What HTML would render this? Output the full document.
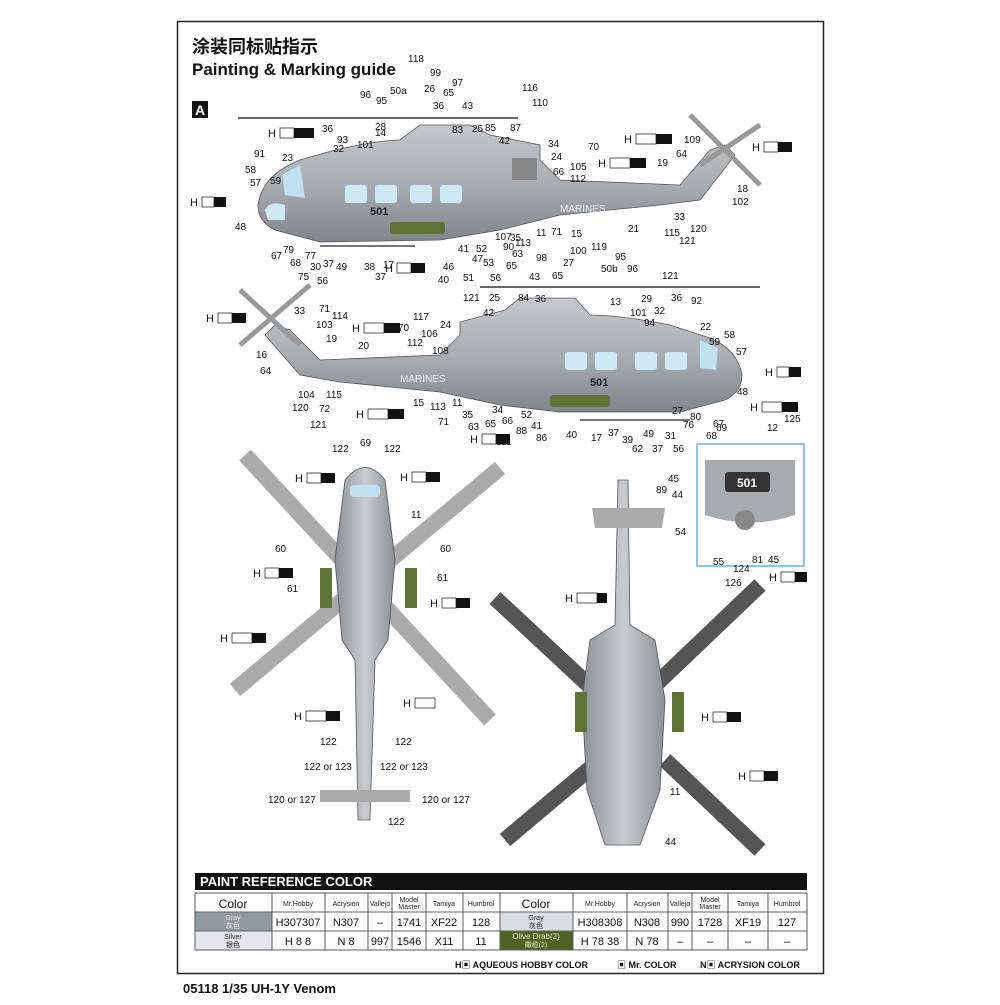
<!DOCTYPE html>
<html><head><meta charset="utf-8"><style>
html,body{margin:0;padding:0;background:#fff;}
svg text{font-family:"Liberation Sans","Noto Sans CJK SC",sans-serif;}
</style></head><body>
<svg width="1000" height="1000" viewBox="0 0 1000 1000" xmlns="http://www.w3.org/2000/svg">
<defs>
<linearGradient id="fus" x1="0" y1="0" x2="0" y2="1"><stop offset="0" stop-color="#c4c8cc"/><stop offset="0.5" stop-color="#a9aeb3"/><stop offset="1" stop-color="#7f858b"/></linearGradient>
<linearGradient id="top" x1="0" y1="0" x2="1" y2="0"><stop offset="0" stop-color="#8a9096"/><stop offset="0.5" stop-color="#c8ccd0"/><stop offset="1" stop-color="#8a9096"/></linearGradient>
</defs>
<rect x="0" y="0" width="1000" height="1000" fill="#fff"/>
<rect x="177.500" y="21.500" width="646" height="952" fill="none" stroke="#222" stroke-width="1.500"/>
<text x="192" y="53" font-size="18" font-weight="bold" fill="#111">涂装同标贴指示</text>
<text x="192" y="75" font-size="17" font-weight="bold" fill="#111">Painting &amp; Marking guide</text>
<rect x="192" y="101" width="16" height="17" fill="#111"/><text x="195" y="115" font-size="14" font-weight="bold" fill="#fff">A</text>

<!-- Helicopter 1 side -->
<g>
<line x1="238" y1="118" x2="518" y2="118" stroke="#666" stroke-width="2"/>
<path d="M258,205 Q262,175 300,160 L335,150 Q380,140 400,140 L420,125 L470,125 L490,135 L540,145 L540,160 L560,180 L680,185 L710,150 L725,145 L735,155 L700,200 L660,205 L560,215 L500,230 L440,240 L320,242 L275,230 Q258,222 258,205Z" fill="url(#fus)" stroke="#555" stroke-width="0.8"/>
<path d="M282,175 L300,165 L305,198 L285,195Z" fill="#bfe1f2"/>
<rect x="345" y="185" width="22" height="18" rx="3" fill="#cfe8f6"/><rect x="375" y="185" width="22" height="18" rx="3" fill="#cfe8f6"/><rect x="410" y="185" width="22" height="18" rx="3" fill="#cfe8f6"/><rect x="440" y="185" width="22" height="18" rx="3" fill="#cfe8f6"/>
<path d="M265,210 Q270,200 285,205 L285,220 L268,220Z" fill="#cfe8f6"/>
<rect x="390" y="222" width="55" height="12" rx="3" fill="#5f7336"/>
<line x1="320" y1="246" x2="415" y2="246" stroke="#777" stroke-width="2"/>
<line x1="700" y1="165" x2="760" y2="125" stroke="#999" stroke-width="5"/><line x1="690" y1="115" x2="760" y2="185" stroke="#999" stroke-width="5"/>
<rect x="512" y="158" width="25" height="22" fill="#888"/>
<text x="560" y="212" font-size="10" fill="#eee">MARINES</text>
<text x="370" y="215" font-size="11" font-weight="bold" fill="#222">501</text>
</g>
<!-- Helicopter 2 side (mirrored) -->
<g>
<line x1="480" y1="287" x2="760" y2="287" stroke="#666" stroke-width="2"/>
<path d="M742,375 Q738,350 710,338 L670,325 Q620,315 590,315 L575,298 L520,298 L505,310 L460,322 L460,335 L440,355 L320,360 L290,330 L275,325 L265,335 L300,375 L340,382 L440,392 L500,405 L560,412 L680,412 L725,400 Q742,392 742,375Z" fill="url(#fus)" stroke="#555" stroke-width="0.8"/>
<rect x="565" y="352" width="22" height="18" rx="3" fill="#cfe8f6"/><rect x="595" y="352" width="22" height="18" rx="3" fill="#cfe8f6"/><rect x="635" y="352" width="22" height="18" rx="3" fill="#cfe8f6"/><rect x="665" y="352" width="22" height="18" rx="3" fill="#cfe8f6"/>
<path d="M700,340 L718,348 L716,370 L700,368Z" fill="#bfe1f2"/>
<rect x="550" y="395" width="60" height="12" rx="3" fill="#5f7336"/>
<line x1="580" y1="420" x2="690" y2="420" stroke="#777" stroke-width="2"/>
<line x1="240" y1="290" x2="300" y2="345" stroke="#999" stroke-width="5"/><line x1="240" y1="345" x2="310" y2="285" stroke="#999" stroke-width="5"/>
<text x="400" y="382" font-size="10" fill="#eee">MARINES</text>
<text x="590" y="386" font-size="11" font-weight="bold" fill="#222">501</text>
</g>
<!-- Top view -->
<g>
<line x1="245" y1="455" x2="490" y2="720" stroke="#aaa" stroke-width="16"/>
<line x1="500" y1="468" x2="235" y2="690" stroke="#aaa" stroke-width="16"/>
<path d="M345,480 Q365,455 385,480 L395,560 L388,640 L375,660 L370,820 L358,820 L355,660 L342,640 L335,560Z" fill="url(#top)" stroke="#555" stroke-width="0.8"/>
<rect x="320" y="790" width="90" height="12" fill="#aaa"/>
<rect x="320" y="568" width="12" height="40" fill="#5f7336"/><rect x="405" y="568" width="12" height="40" fill="#5f7336"/>
<rect x="350" y="485" width="30" height="12" rx="4" fill="#bfe1f2"/>
</g>
<!-- Bottom view -->
<g>
<line x1="495" y1="598" x2="610" y2="705" stroke="#555" stroke-width="16"/>
<line x1="760" y1="585" x2="650" y2="690" stroke="#555" stroke-width="16"/>
<line x1="505" y1="840" x2="600" y2="760" stroke="#555" stroke-width="16"/>
<line x1="760" y1="850" x2="665" y2="760" stroke="#555" stroke-width="16"/>
<path d="M618,480 L628,480 L630,625 L655,640 L665,700 L660,790 L640,845 L605,845 L587,790 L582,700 L590,640 L615,625Z" fill="url(#top)" stroke="#555" stroke-width="0.8"/>
<path d="M592,508 L665,508 L662,528 L595,528Z" fill="#aaa"/>
<rect x="575" y="692" width="12" height="40" fill="#5f7336"/><rect x="672" y="692" width="12" height="40" fill="#5f7336"/>
</g>
<!-- Inset -->
<rect x="697" y="444" width="107" height="122" fill="#fff" stroke="#6cb4dc" stroke-width="1.500"/>
<path d="M705,460 L795,460 L795,515 Q750,530 705,515Z" fill="#a6abb0"/>
<rect x="725" y="472" width="45" height="20" rx="3" fill="#333"/><text x="737" y="487" font-size="12" font-weight="bold" fill="#fff">501</text>
<circle cx="745" cy="520" r="10" fill="#888"/>

<g font-size="10" fill="#111">
<text x="408" y="62">118</text><text x="430" y="76">99</text><text x="452" y="86">97</text><text x="360" y="98">96</text><text x="376" y="104">95</text><text x="390" y="94">50a</text><text x="424" y="92">26</text><text x="443" y="96">65</text><text x="433" y="109">36</text><text x="462" y="109">43</text><text x="522" y="91">116</text><text x="532" y="106">110</text>
<text x="375" y="130">28</text><text x="322" y="132">36</text><text x="337" y="143">93</text><text x="333" y="152">32</text><text x="357" y="148">101</text><text x="375" y="136">14</text><text x="452" y="133">83</text><text x="472" y="132">25</text><text x="485" y="131">85</text><text x="510" y="131">87</text><text x="499" y="144">42</text>
<text x="548" y="147">34</text><text x="551" y="160">24</text><text x="570" y="170">105</text><text x="553" y="175">66</text><text x="570" y="182">112</text><text x="588" y="150">70</text><text x="684" y="143">109</text><text x="676" y="157">64</text><text x="657" y="166">19</text><text x="737" y="192">18</text><text x="732" y="205">102</text>
<text x="254" y="157">91</text><text x="282" y="161">23</text><text x="245" y="173">58</text><text x="250" y="186">57</text><text x="270" y="184">59</text><text x="235" y="230">48</text>
<text x="674" y="220">33</text><text x="628" y="232">21</text><text x="664" y="236">115</text><text x="690" y="232">120</text><text x="679" y="244">121</text>
<text x="271" y="259">67</text><text x="283" y="253">79</text><text x="290" y="266">68</text><text x="305" y="259">77</text><text x="310" y="270">30</text><text x="323" y="267">37</text><text x="336" y="270">49</text><text x="298" y="280">75</text><text x="317" y="284">56</text>
<text x="364" y="270">38</text><text x="383" y="268">17</text><text x="375" y="280">37</text><text x="458" y="252">41</text><text x="476" y="252">52</text><text x="472" y="262">47</text><text x="483" y="266">53</text><text x="443" y="270">46</text><text x="463" y="281">51</text><text x="438" y="283">40</text>
<text x="495" y="240">107</text><text x="510" y="241">35</text><text x="536" y="236">11</text><text x="551" y="235">71</text><text x="571" y="237">15</text><text x="503" y="250">90</text><text x="515" y="246">113</text><text x="512" y="257">63</text><text x="506" y="269">65</text><text x="490" y="281">56</text><text x="529" y="280">43</text>
<text x="536" y="261">98</text><text x="570" y="254">100</text><text x="591" y="250">119</text><text x="563" y="266">27</text><text x="601" y="272">50b</text><text x="615" y="260">95</text><text x="627" y="272">96</text><text x="552" y="279">65</text><text x="662" y="279">121</text>
<text x="463" y="301">121</text><text x="489" y="301">25</text><text x="518" y="301">84</text><text x="535" y="302">36</text><text x="413" y="320">117</text><text x="483" y="316">42</text><text x="440" y="328">24</text><text x="610" y="305">13</text><text x="641" y="302">29</text><text x="654" y="314">32</text><text x="630" y="316">101</text><text x="644" y="326">94</text><text x="671" y="301">36</text><text x="691" y="304">92</text><text x="700" y="330">22</text><text x="724" y="338">58</text><text x="709" y="345">59</text><text x="736" y="355">57</text><text x="737" y="395">48</text>
<text x="398" y="331">70</text><text x="421" y="337">106</text><text x="407" y="346">112</text><text x="432" y="354">108</text><text x="358" y="349">20</text><text x="294" y="314">33</text><text x="319" y="312">71</text><text x="332" y="319">114</text><text x="316" y="328">103</text><text x="326" y="342">19</text><text x="256" y="358">16</text><text x="260" y="374">64</text>
<text x="298" y="398">104</text><text x="326" y="398">115</text><text x="292" y="411">120</text><text x="319" y="412">72</text><text x="310" y="428">121</text><text x="413" y="406">15</text><text x="430" y="410">113</text><text x="438" y="425">71</text><text x="452" y="406">11</text><text x="462" y="418">35</text><text x="468" y="430">63</text><text x="485" y="427">65</text><text x="492" y="413">34</text><text x="502" y="424">66</text><text x="516" y="434">88</text><text x="521" y="418">52</text><text x="531" y="429">41</text><text x="536" y="441">86</text><text x="496" y="445">111</text>
<text x="566" y="438">40</text><text x="591" y="441">17</text><text x="608" y="436">37</text><text x="622" y="443">39</text><text x="632" y="452">62</text><text x="643" y="437">49</text><text x="652" y="452">37</text><text x="665" y="439">31</text><text x="673" y="452">56</text><text x="683" y="428">76</text><text x="672" y="414">27</text><text x="690" y="420">80</text><text x="713" y="427">67</text><text x="706" y="439">68</text><text x="784" y="422">125</text><text x="716" y="431">69</text><text x="767" y="431">12</text>
<text x="332" y="452">122</text><text x="360" y="446">69</text><text x="384" y="452">122</text><text x="411" y="518">11</text><text x="275" y="552">60</text><text x="440" y="552">60</text><text x="437" y="581">61</text><text x="287" y="592">61</text><text x="320" y="745">122</text><text x="395" y="745">122</text><text x="304" y="770">122 or 123</text><text x="380" y="770">122 or 123</text><text x="268" y="803">120 or 127</text><text x="422" y="803">120 or 127</text><text x="388" y="825">122</text>
<text x="668" y="482">45</text><text x="656" y="493">89</text><text x="672" y="498">44</text><text x="675" y="535">54</text><text x="713" y="565">55</text><text x="733" y="572">124</text><text x="752" y="563">81</text><text x="768" y="563">45</text><text x="725" y="586">126</text><text x="670" y="795">11</text><text x="665" y="845">44</text>
</g>
<!-- H badges -->
<g font-size="11" fill="#111">
<text x="268" y="137">H</text><rect x="280" y="128" width="14" height="10" fill="#fff" stroke="#111" stroke-width="0.7"/><rect x="294" y="128" width="20" height="10" fill="#111"/>
<text x="190" y="206">H</text><rect x="202" y="197" width="12" height="10" fill="#fff" stroke="#111" stroke-width="0.7"/><rect x="214" y="197" width="12" height="10" fill="#111"/>
<text x="624" y="143">H</text><rect x="636" y="134" width="20" height="10" fill="#fff" stroke="#111" stroke-width="0.7"/><rect x="656" y="134" width="16" height="10" fill="#111"/>
<text x="598" y="167">H</text><rect x="610" y="158" width="20" height="10" fill="#fff" stroke="#111" stroke-width="0.7"/><rect x="630" y="158" width="16" height="10" fill="#111"/>
<text x="752" y="151">H</text><rect x="764" y="142" width="14" height="10" fill="#fff" stroke="#111" stroke-width="0.7"/><rect x="778" y="142" width="14" height="10" fill="#111"/>
<text x="385" y="272">H</text><rect x="397" y="263" width="14" height="10" fill="#fff" stroke="#111" stroke-width="0.7"/><rect x="411" y="263" width="14" height="10" fill="#111"/>
<text x="206" y="322">H</text><rect x="218" y="313" width="14" height="10" fill="#fff" stroke="#111" stroke-width="0.7"/><rect x="232" y="313" width="14" height="10" fill="#111"/>
<text x="352" y="332">H</text><rect x="364" y="323" width="20" height="10" fill="#fff" stroke="#111" stroke-width="0.7"/><rect x="384" y="323" width="16" height="10" fill="#111"/>
<text x="356" y="418">H</text><rect x="368" y="409" width="20" height="10" fill="#fff" stroke="#111" stroke-width="0.7"/><rect x="388" y="409" width="16" height="10" fill="#111"/>
<text x="765" y="376">H</text><rect x="777" y="367" width="12" height="10" fill="#fff" stroke="#111" stroke-width="0.7"/><rect x="789" y="367" width="12" height="10" fill="#111"/>
<text x="470" y="443">H</text><rect x="482" y="434" width="14" height="10" fill="#fff" stroke="#111" stroke-width="0.7"/><rect x="496" y="434" width="14" height="10" fill="#111"/>
<text x="750" y="411">H</text><rect x="762" y="402" width="20" height="10" fill="#fff" stroke="#111" stroke-width="0.7"/><rect x="782" y="402" width="16" height="10" fill="#111"/>
<text x="295" y="482">H</text><rect x="307" y="473" width="14" height="10" fill="#fff" stroke="#111" stroke-width="0.7"/><rect x="321" y="473" width="14" height="10" fill="#111"/>
<text x="400" y="481">H</text><rect x="412" y="472" width="14" height="10" fill="#fff" stroke="#111" stroke-width="0.7"/><rect x="426" y="472" width="14" height="10" fill="#111"/>
<text x="253" y="577">H</text><rect x="265" y="568" width="14" height="10" fill="#fff" stroke="#111" stroke-width="0.7"/><rect x="279" y="568" width="14" height="10" fill="#111"/>
<text x="430" y="607">H</text><rect x="442" y="598" width="14" height="10" fill="#fff" stroke="#111" stroke-width="0.7"/><rect x="456" y="598" width="14" height="10" fill="#111"/>
<text x="220" y="642">H</text><rect x="232" y="633" width="20" height="10" fill="#fff" stroke="#111" stroke-width="0.7"/><rect x="252" y="633" width="14" height="10" fill="#111"/>
<text x="403" y="707">H</text><rect x="415" y="698" width="20" height="10" fill="#fff" stroke="#111" stroke-width="0.7"/><rect x="435" y="698" width="0" height="10" fill="#111"/>
<text x="294" y="720">H</text><rect x="306" y="711" width="20" height="10" fill="#fff" stroke="#111" stroke-width="0.7"/><rect x="326" y="711" width="14" height="10" fill="#111"/>
<text x="565" y="602">H</text><rect x="577" y="593" width="20" height="10" fill="#fff" stroke="#111" stroke-width="0.7"/><rect x="597" y="593" width="10" height="10" fill="#111"/>
<text x="701" y="721">H</text><rect x="713" y="712" width="14" height="10" fill="#fff" stroke="#111" stroke-width="0.7"/><rect x="727" y="712" width="14" height="10" fill="#111"/>
<text x="738" y="780">H</text><rect x="750" y="771" width="14" height="10" fill="#fff" stroke="#111" stroke-width="0.7"/><rect x="764" y="771" width="14" height="10" fill="#111"/>
<text x="769" y="581">H</text><rect x="781" y="572" width="14" height="10" fill="#fff" stroke="#111" stroke-width="0.7"/><rect x="795" y="572" width="12" height="10" fill="#111"/>
</g>

<!-- Table -->
<rect x="195" y="873" width="612" height="17" fill="#111"/>
<text x="200" y="886" font-size="13" font-weight="bold" fill="#fff">PAINT  REFERENCE COLOR</text>
<g stroke="#333" stroke-width="0.8" fill="none">
<rect x="195" y="893" width="612" height="57"/>
<line x1="195" y1="912" x2="807" y2="912"/><line x1="195" y1="931" x2="807" y2="931"/>
<line x1="272" y1="893" x2="272" y2="950"/><line x1="325" y1="893" x2="325" y2="950"/><line x1="368" y1="893" x2="368" y2="950"/><line x1="392" y1="893" x2="392" y2="950"/><line x1="426" y1="893" x2="426" y2="950"/><line x1="463" y1="893" x2="463" y2="950"/><line x1="500" y1="893" x2="500" y2="950"/><line x1="573" y1="893" x2="573" y2="950"/><line x1="627" y1="893" x2="627" y2="950"/><line x1="668" y1="893" x2="668" y2="950"/><line x1="692" y1="893" x2="692" y2="950"/><line x1="728" y1="893" x2="728" y2="950"/><line x1="768" y1="893" x2="768" y2="950"/>
</g>
<rect x="195.500" y="912.500" width="76" height="18" fill="#8f9aa2"/>
<rect x="195.500" y="931.500" width="76" height="18" fill="#e3e5f0"/>
<rect x="500.500" y="912.500" width="72" height="18" fill="#d7dee2"/>
<rect x="500.500" y="931.500" width="72" height="18" fill="#4e6224"/>
<g font-size="7" fill="#222" text-anchor="middle">
<text x="298" y="906">Mr.Hobby</text><text x="346" y="906">Acrysion</text><text x="380" y="906">Vallejo</text><text x="409" y="902">Model</text><text x="409" y="909">Master</text><text x="444" y="906">Tamiya</text><text x="481" y="906">Humbrol</text>
<text x="600" y="906">Mr.Hobby</text><text x="647" y="906">Acrysion</text><text x="680" y="906">Vallejo</text><text x="710" y="902">Model</text><text x="710" y="909">Master</text><text x="748" y="906">Tamiya</text><text x="787" y="906">Humbrol</text>
<text x="233" y="920" fill="#e8e8e8">Gray</text><text x="233" y="928" fill="#e8e8e8">灰色</text>
<text x="233" y="939">Silver</text><text x="233" y="947">银色</text>
<text x="536" y="920">Gray</text><text x="536" y="928">灰色</text>
<text x="536" y="939" fill="#e6edc8" font-size="8">Olive Drab(2)</text><text x="536" y="947" fill="#e6edc8">橄榄(2)</text>
</g>
<g font-size="11" fill="#111" text-anchor="middle">
<text x="233" y="908" font-size="12">Color</text><text x="536" y="908" font-size="12">Color</text>
<text x="298" y="926">H<tspan fill="#111">307</tspan>307</text><text x="346" y="926">N307</text><text x="380" y="926">–</text><text x="409" y="926">1741</text><text x="444" y="926">XF22</text><text x="481" y="926">128</text>
<text x="600" y="926">H308308</text><text x="647" y="926">N308</text><text x="680" y="926">990</text><text x="710" y="926">1728</text><text x="748" y="926">XF19</text><text x="787" y="926">127</text>
<text x="298" y="945">H 8  8</text><text x="346" y="945">N 8</text><text x="380" y="945">997</text><text x="409" y="945">1546</text><text x="444" y="945">X11</text><text x="481" y="945">11</text>
<text x="600" y="945">H 78 38</text><text x="647" y="945">N 78</text><text x="680" y="945">–</text><text x="710" y="945">–</text><text x="748" y="945">–</text><text x="787" y="945">–</text>
</g>
<g font-size="9" font-weight="bold" fill="#111">
<text x="455" y="968">H▣ AQUEOUS HOBBY COLOR</text><text x="617" y="968">▣ Mr. COLOR</text><text x="700" y="968">N▣ ACRYSION COLOR</text>
</g>
<text x="183" y="993" font-size="13" font-weight="bold" fill="#111">05118 1/35 UH-1Y Venom</text>
</svg>
</body></html>
